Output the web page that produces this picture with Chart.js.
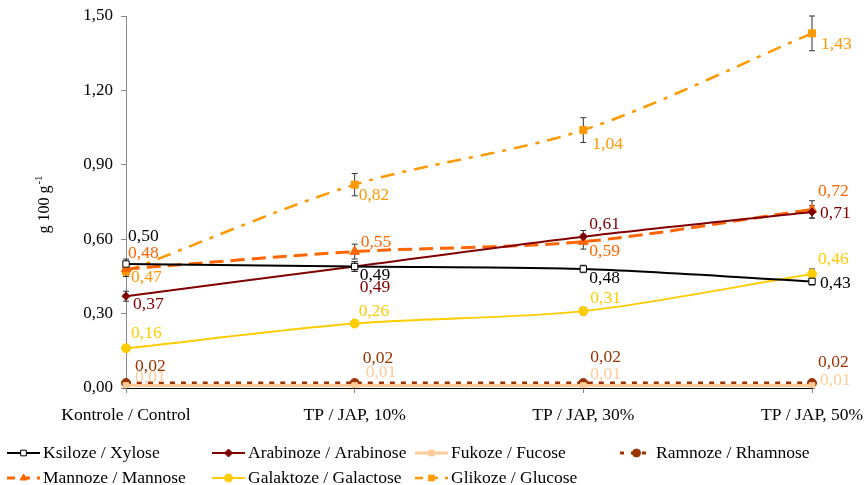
<!DOCTYPE html>
<html>
<head>
<meta charset="utf-8">
<script src="https://cdn.jsdelivr.net/npm/chart.js@4/dist/chart.umd.min.js"></script>
<style>
  html, body { margin: 0; padding: 0; background: #fff; }
  #wrap { width: 866px; height: 485px; }
</style>
</head>
<body>
<div id="wrap"><canvas id="chart" width="866" height="485"></canvas></div>
<script>
const categories = ["Kontrole / Control", "TP / JAP, 10%", "TP / JAP, 30%", "TP / JAP, 50%"];
const yTicks = [0, 0.3, 0.6, 0.9, 1.2, 1.5];

const seriesNames = [
    "Ksiloze / Xylose", "Arabinoze / Arabinose", "Fukoze / Fucose", "Ramnoze / Rhamnose",
    "Mannoze / Mannose", "Galaktoze / Galactose", "Glikoze / Glucose",
];
const xylose = [0.50, 0.49, 0.48, 0.43];
const arabinose = [0.37, 0.49, 0.61, 0.71];
const fucose = [0.01, 0.01, 0.01, 0.01];
const rhamnose = [0.02, 0.02, 0.02, 0.02];
const mannose = [0.48, 0.55, 0.59, 0.72];
const galactose = [0.16, 0.26, 0.31, 0.46];
const glucose = [0.47, 0.82, 1.04, 1.43];

// standard deviations (error bars)
const xyloseErr = [0.02, 0.02, 0.015, 0.015];
const arabinoseErr = [0.02, 0.02, 0.025, 0.025];
const fucoseErr = [0.01, 0.01, 0.01, 0.01];
const rhamnoseErr = [0.005, 0.005, 0.005, 0.005];
const mannoseErr = [0.03, 0.03, 0.03, 0.035];
const galactoseErr = [0.01, 0.01, 0.015, 0.02];
const glucoseErr = [0.02, 0.045, 0.05, 0.07];

const FONT = "'Liberation Serif', 'Times New Roman', serif";
const TEXT_SIZE = 17.5;

// label nudges in px (dx, dy) relative to each point
const labelNudge = {
    xylose: [[2, -28], [5, 9], [6, 9], [8, 2]],
    arabinose: [[7, 8], [5, 21], [6, -12], [8, 1]],
    fucose: [[9, -8], [11, -13], [7, -11], [8, -5]],
    rhamnose: [[9, -17], [8, -25], [7, -26], [6, -21]],
    mannose: [[2, -16], [6, -9], [6, 10], [6, -18]],
    galactose: [[5, -15], [4, -12], [7, -13], [6, -15]],
    glucose: [[5, 6], [4, 11], [9, 14], [9, 11]],
};

function fmt(v) {
    return v.toFixed(2).replace(".", ",");
}

function makeSet(label, data, err, nudge, color, opts) {
    return Object.assign({
        label: label,
        data: data,
        errors: err,
        nudge: nudge,
        textColor: color,
        borderColor: color,
        backgroundColor: color,
        borderWidth: 2,
        pointRadius: 4,
        pointBorderWidth: 1,
        pointStyle: "circle",
        tension: 0.3,
        fill: false,
    }, opts);
}

const datasets = [
    makeSet(seriesNames[2], fucose, fucoseErr, labelNudge.fucose, "#FFCC99",
        { borderWidth: 3, pointStyle: "rect", pointRadius: 4 }),
    makeSet(seriesNames[3], rhamnose, rhamnoseErr, labelNudge.rhamnose, "#993300",
        { borderWidth: 3, borderDash: [5, 6], pointRadius: 4.5, legendDash: [4, 7] }),
    makeSet(seriesNames[0], xylose, xyloseErr, labelNudge.xylose, "#000000",
        { backgroundColor: "#ffffff", pointStyle: "rect", pointRadius: 4.5 }),
    makeSet(seriesNames[5], galactose, galactoseErr, labelNudge.galactose, "#FFCC00",
        { pointRadius: 4.5 }),
    makeSet(seriesNames[1], arabinose, arabinoseErr, labelNudge.arabinose, "#800000",
        { pointStyle: "rectRot", pointRadius: 4 }),
    makeSet(seriesNames[4], mannose, mannoseErr, labelNudge.mannose, "#FF6600",
        { borderWidth: 3, borderDash: [14, 7], pointStyle: "triangle", pointRadius: 5.5, legendDash: [8, 7] }),
    makeSet(seriesNames[6], glucose, glucoseErr, labelNudge.glucose, "#FF9900",
        { borderWidth: 2.5, borderDash: [14, 8, 4, 8], pointStyle: "rect", pointRadius: 5, legendDash: [8, 7] }),
];

// legend order (two rows, four columns)
const legendOrder = [
    seriesNames[0], seriesNames[1], seriesNames[2], seriesNames[3],
    seriesNames[4], seriesNames[5], seriesNames[6],
];

const errorBars = {
    id: "errorBars",
    beforeDatasetsDraw(chart) {
        const ctx = chart.ctx;
        const y = chart.scales.y;
        ctx.save();
        ctx.strokeStyle = "#333";
        ctx.lineWidth = 1;
        chart.data.datasets.forEach((ds, i) => {
            const meta = chart.getDatasetMeta(i);
            meta.data.forEach((pt, j) => {
                const e = ds.errors[j];
                const top = y.getPixelForValue(ds.data[j] + e);
                const bot = y.getPixelForValue(ds.data[j] - e);
                ctx.beginPath();
                ctx.moveTo(pt.x, top);
                ctx.lineTo(pt.x, bot);
                ctx.moveTo(pt.x - 3, top);
                ctx.lineTo(pt.x + 3, top);
                ctx.moveTo(pt.x - 3, bot);
                ctx.lineTo(pt.x + 3, bot);
                ctx.stroke();
            });
        });
        ctx.restore();
    },
};

const valueLabels = {
    id: "valueLabels",
    afterDatasetsDraw(chart) {
        const ctx = chart.ctx;
        ctx.save();
        ctx.font = TEXT_SIZE + "px " + FONT;
        ctx.textAlign = "left";
        ctx.textBaseline = "middle";
        chart.data.datasets.forEach((ds, i) => {
            const meta = chart.getDatasetMeta(i);
            ctx.fillStyle = ds.textColor;
            meta.data.forEach((pt, j) => {
                const n = ds.nudge[j];
                ctx.fillText(fmt(ds.data[j]), pt.x + n[0], pt.y + n[1]);
            });
        });
        ctx.restore();
    },
};

const extras = {
    id: "extras",
    afterDraw(chart) {
        const ctx = chart.ctx;
        const area = chart.chartArea;
        ctx.save();
        // y axis title with superscript
        ctx.translate(45, (area.top + area.bottom) / 2 + 3);
        ctx.rotate(-Math.PI / 2);
        ctx.fillStyle = "#000";
        ctx.textBaseline = "middle";
        ctx.font = "16px " + FONT;
        const main = "g 100 g";
        const w = ctx.measureText(main).width;
        ctx.font = "11px " + FONT;
        const sup = "-1";
        const ws = ctx.measureText(sup).width;
        const start = -(w + ws) / 2;
        ctx.font = "16px " + FONT;
        ctx.textAlign = "left";
        ctx.fillText(main, start, 0);
        ctx.font = "11px " + FONT;
        ctx.fillText(sup, start + w + 1, -6);
        ctx.restore();

        // legend
        ctx.save();
        ctx.font = TEXT_SIZE + "px " + FONT;
        ctx.textBaseline = "middle";
        const colX = [7, 212, 415, 620];
        const rowY = [453, 478];
        legendOrder.forEach((name, k) => {
            const ds = chart.data.datasets.find((d) => d.label === name);
            const x0 = colX[k % 4];
            const yy = rowY[Math.floor(k / 4)];
            ctx.save();
            ctx.strokeStyle = ds.borderColor;
            ctx.lineWidth = ds.borderWidth;
            ctx.setLineDash(ds.legendDash || []);
            ctx.beginPath();
            ctx.moveTo(x0, yy);
            ctx.lineTo(x0 + 33, yy);
            ctx.stroke();
            ctx.restore();
            ctx.save();
            ctx.fillStyle = ds.backgroundColor;
            ctx.strokeStyle = ds.borderColor;
            Chart.helpers.drawPoint(ctx, {
                pointStyle: ds.pointStyle,
                radius: Math.min(ds.pointRadius, 4),
                rotation: 0,
                borderWidth: 1,
            }, x0 + 16.5, yy);
            ctx.restore();
            ctx.fillStyle = "#000";
            ctx.fillText(name, x0 + 36, yy);
        });
        ctx.restore();
    },
};

new Chart(document.getElementById("chart"), {
    type: "line",
    data: { labels: categories, datasets: datasets },
    options: {
        responsive: false,
        animation: false,
        layout: { padding: { left: 0, right: 54, top: 16, bottom: 0 } },
        plugins: {
            legend: { display: false },
            tooltip: { enabled: false },
        },
        scales: {
            x: {
                offset: false,
                grid: { drawOnChartArea: false, drawTicks: true, tickLength: 5, color: "#888" },
                border: { color: "#000", width: 1 },
                ticks: { color: "#000", font: { family: FONT, size: TEXT_SIZE }, padding: 12, maxRotation: 0, autoSkip: false },
                afterFit(scale) {
                    scale.height = 97;
                    scale.paddingLeft = 0;
                    scale.paddingRight = 0;
                },
            },
            y: {
                min: 0,
                max: 1.5,
                afterBuildTicks(scale) { scale.ticks = yTicks.map((v) => ({ value: v })); },
                grid: { drawOnChartArea: false, drawTicks: true, tickLength: 5, color: "#888" },
                border: { color: "#888", width: 1 },
                ticks: {
                    color: "#000",
                    font: { family: FONT, size: 17 },
                    padding: 8,
                    callback: (v) => fmt(v),
                },
                afterFit(scale) {
                    scale.width = 126;
                    scale.paddingTop = 0;
                    scale.paddingBottom = 0;
                },
            },
        },
    },
    plugins: [errorBars, valueLabels, extras],
});
</script>
</body>
</html>
